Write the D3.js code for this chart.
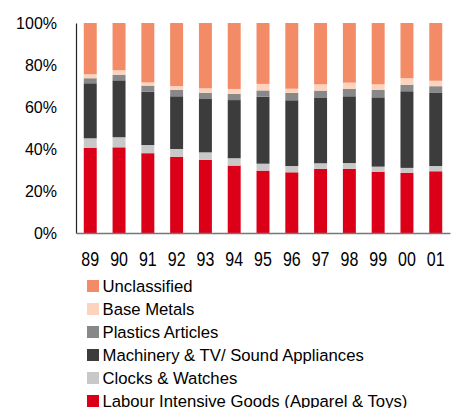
<!DOCTYPE html>
<meta charset="utf-8">
<style>
  body { margin: 0; background: #fff; }
  text { font-family: "Liberation Sans", Arial, sans-serif; fill: #000; }
</style>
<body>
<svg width="454" height="408"></svg>
<script src="https://cdn.jsdelivr.net/npm/d3@7"></script>
<script>
  // data (% share of exports)
  const years = ["89", "90", "91", "92", "93", "94", "95", "96", "97", "98", "99", "00", "01"];
  const labour = [40.6, 40.8, 38.0, 36.3, 34.8, 32.1, 29.7, 28.9, 30.5, 30.6, 29.2, 28.7, 29.4];
  const clocks = [4.5, 4.8, 3.9, 3.7, 3.6, 3.5, 3.3, 3.0, 2.7, 2.7, 2.4, 2.3, 2.5];
  const machinery = [26.2, 27.1, 25.4, 25.1, 25.4, 27.7, 31.9, 31.3, 31.1, 31.8, 33.0, 36.5, 34.8];
  const plastics = [2.4, 2.7, 2.9, 3.0, 3.0, 3.0, 3.0, 3.5, 3.5, 3.5, 3.5, 3.1, 3.2];
  const baseMetals = [1.9, 2.1, 1.5, 1.9, 2.1, 2.3, 3.1, 2.0, 3.0, 3.0, 2.7, 3.1, 2.6];
  const unclassified = [24.4, 22.5, 28.3, 30.0, 31.1, 31.4, 29.0, 31.3, 29.2, 28.4, 29.2, 26.3, 27.5];
  const yTicks = [0, 20, 40, 60, 80, 100];

  const series = [
    { key: "Labour Intensive Goods (Apparel & Toys)", values: labour, color: "#db0017" },
    { key: "Clocks & Watches", values: clocks, color: "#c8c8c8" },
    { key: "Machinery & TV/ Sound Appliances", values: machinery, color: "#3c3c3c" },
    { key: "Plastics Articles", values: plastics, color: "#888888" },
    { key: "Base Metals", values: baseMetals, color: "#fdd3bd" },
    { key: "Unclassified", values: unclassified, color: "#f28b66" }
  ];

  const rows = years.map((yr, i) => {
    const r = { year: yr };
    series.forEach(s => r[s.key] = s.values[i]);
    return r;
  });

  const svg = d3.select("svg");
  const mLeft = 76, mRight = 450, mTop = 23, mBottom = 233;

  const x = d3.scaleBand().domain(years).range([mLeft, mRight]).paddingInner(0.55).paddingOuter(0.27);
  const y = d3.scaleLinear().domain([0, 100]).range([mBottom, mTop]);

  const stack = d3.stack().keys(series.map(s => s.key));
  const layers = stack(rows);

  svg.append("g").selectAll("g")
    .data(layers)
    .join("g")
    .attr("fill", (d, i) => series[i].color)
    .selectAll("rect")
    .data(d => d)
    .join("rect")
    .attr("x", d => x(d.data.year))
    .attr("width", x.bandwidth())
    .attr("y", d => y(d[1]))
    .attr("height", d => y(d[0]) - y(d[1]));

  // y axis
  const yAxis = svg.append("g")
    .attr("transform", `translate(${mLeft},0)`)
    .call(d3.axisLeft(y).tickValues(yTicks).tickFormat(d => d + "%").tickSize(0).tickPadding(19));
  yAxis.select(".domain").attr("stroke", "#222").attr("stroke-width", 1.2);
  yAxis.selectAll("text").attr("font-size", 16).attr("fill", "#000");

  // x axis - labels look vertically stretched in the original
  const xAxis = svg.append("g")
    .attr("transform", `translate(0,${mBottom})`)
    .call(d3.axisBottom(x).tickSize(0));
  xAxis.select(".domain").attr("stroke", "#777").attr("stroke-width", 1.5);
  xAxis.selectAll("text")
    .attr("font-size", 16).attr("fill", "#000")
    .attr("y", 0).attr("dy", 0)
    .attr("transform", "translate(0,32.5) scale(1,1.3)");

  // legend, top to bottom in reverse stacking order
  const legend = svg.append("g").attr("transform", "translate(87,286)");
  const items = legend.selectAll("g")
    .data(series.slice().reverse())
    .join("g")
    .attr("transform", (d, i) => `translate(0,${i * 23})`);
  items.append("rect")
    .attr("x", 0).attr("y", -6).attr("width", 12).attr("height", 12)
    .attr("fill", d => d.color);
  items.append("text")
    .attr("x", 15.5).attr("y", 0).attr("dy", "0.35em")
    .attr("font-size", 16.7)
    .text(d => d.key);
</script>
</body>
